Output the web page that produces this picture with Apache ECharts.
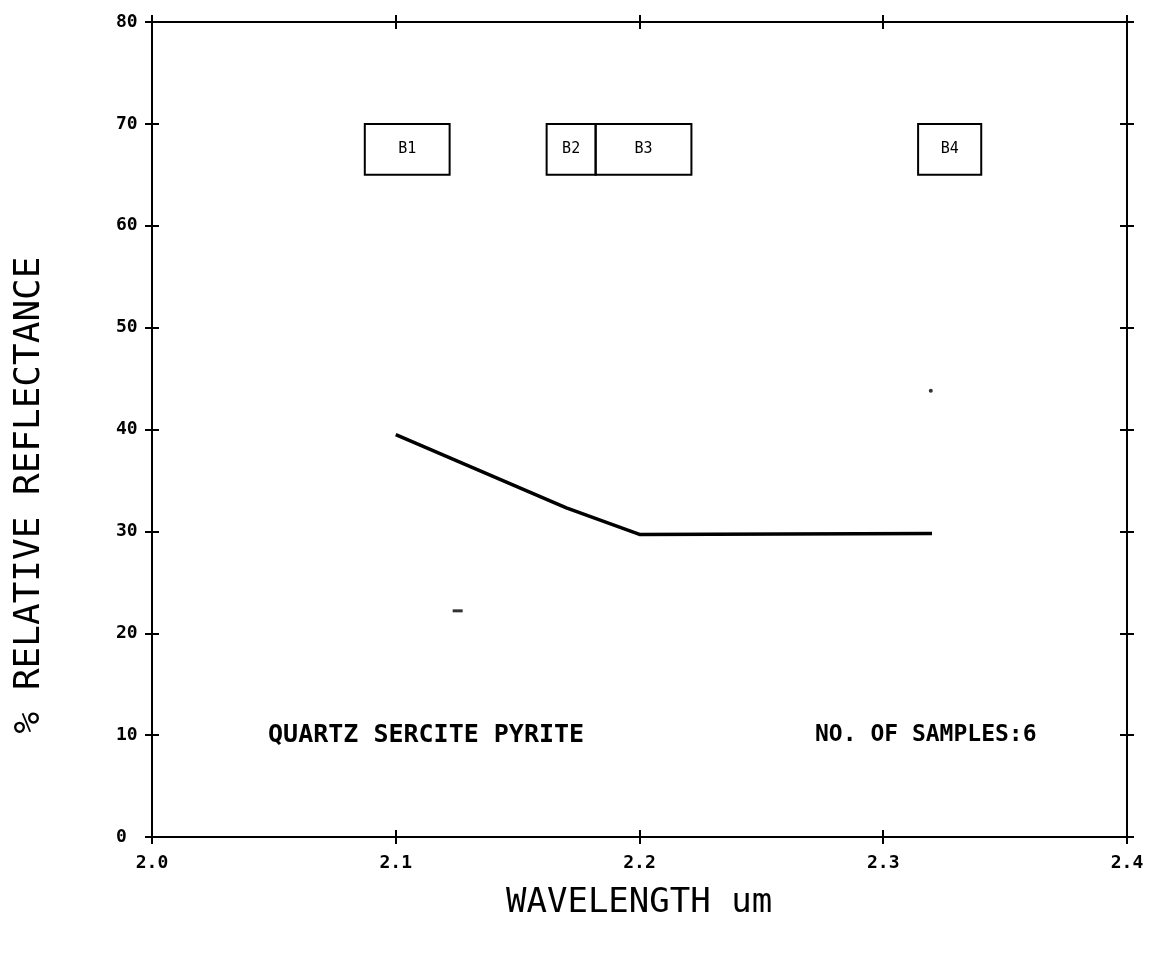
<!DOCTYPE html>
<html>
<head>
<meta charset="utf-8">
<script src="https://cdn.jsdelivr.net/npm/echarts@6/dist/echarts.min.js"></script>
<style>
html,body{margin:0;padding:0;background:#fff;}
#chart{width:1154px;height:957px;}
</style>
</head>
<body>
<div id="chart"></div>
<script>
// Data
const wavelength = [2.10, 2.17, 2.20, 2.32];
const reflectance = [39.5, 32.3, 29.7, 29.8];
const bandNames = ['B1', 'B2', 'B3', 'B4'];
const bandStart = [2.0873, 2.1619, 2.1820, 2.3143];
const bandEnd = [2.1221, 2.1820, 2.2213, 2.3402];
const bandLow = [65, 65, 65, 65];
const bandHigh = [70, 70, 70, 70];
const strayMarks = [[2.1254, 22.2], [2.3195, 43.8]];
const mineralLabel = 'QUARTZ SERCITE PYRITE';
const samplesLabel = 'NO. OF SAMPLES:6';
const mineralPos = [2.0476, 10];
const samplesPos = [2.272, 10];
const xTitle = 'WAVELENGTH um';
const yTitle = '% RELATIVE REFLECTANCE';
const xMin = 2.0, xMax = 2.4, xStep = 0.1;
const yMin = 0, yMax = 80, yStep = 10;

const FONT = 'DejaVu Sans Mono';
const chart = echarts.init(document.getElementById('chart'));

function xAx(pos, inside, showLabel) {
  return {
    type: 'value', min: xMin, max: xMax, interval: xStep, position: pos,
    axisLine: {show: true, onZero: false, lineStyle: {color: '#000', width: 2}},
    axisTick: {show: true, inside: inside, length: 7, lineStyle: {color: '#000', width: 2}},
    axisLabel: {show: showLabel, margin: 17, color: '#000', fontFamily: FONT, fontSize: 18, fontWeight: 'bold',
      formatter: v => v.toFixed(1)},
    splitLine: {show: false}
  };
}
function yAx(pos, inside, showLabel) {
  return {
    type: 'value', min: yMin, max: yMax, interval: yStep, position: pos,
    axisLine: {show: true, onZero: false, lineStyle: {color: '#000', width: 2}},
    axisTick: {show: true, inside: inside, length: 7, lineStyle: {color: '#000', width: 2}},
    axisLabel: {show: showLabel, margin: 36, align: 'left', color: '#000', fontFamily: FONT, fontSize: 18, fontWeight: 'bold'},
    splitLine: {show: false}
  };
}

const areas = bandNames.map((n, i) => [
  {name: n, xAxis: bandStart[i], yAxis: bandLow[i]},
  {xAxis: bandEnd[i], yAxis: bandHigh[i]}
]);

chart.setOption({
  backgroundColor: '#fff',
  animation: false,
  grid: {left: 152, right: 27, top: 22, bottom: 120},
  xAxis: [xAx('bottom', false, true), xAx('bottom', true, false), xAx('top', false, false), xAx('top', true, false)],
  yAxis: [yAx('left', false, true), yAx('left', true, false), yAx('right', false, false), yAx('right', true, false)],
  series: [
    {
      type: 'line', xAxisIndex: 0, yAxisIndex: 0,
      data: wavelength.map((x, i) => [x, reflectance[i]]),
      showSymbol: false, symbol: 'none',
      lineStyle: {color: '#000', width: 3.5},
      markArea: {
        silent: true,
        itemStyle: {color: 'rgba(0,0,0,0)', borderColor: '#000', borderWidth: 2},
        label: {show: true, position: 'inside', color: '#000', fontFamily: FONT, fontSize: 15},
        data: areas
      }
    },
    {
      type: 'scatter', xAxisIndex: 0, yAxisIndex: 0,
      data: [strayMarks[0]], symbol: 'rect', symbolSize: [10, 3],
      itemStyle: {color: '#000'}
    },
    {
      type: 'scatter', xAxisIndex: 0, yAxisIndex: 0,
      data: [strayMarks[1]], symbol: 'circle', symbolSize: 4,
      itemStyle: {color: '#000'}
    },
    {
      type: 'scatter', xAxisIndex: 0, yAxisIndex: 0, symbolSize: 0, silent: true,
      itemStyle: {opacity: 1},
      data: [{value: mineralPos, label: {formatter: mineralLabel, fontSize: 25}},
             {value: samplesPos, label: {formatter: samplesLabel, fontSize: 23}}],
      label: {show: true, position: 'right', distance: 0, color: '#000', fontFamily: FONT, fontWeight: 'bold'}
    }
  ],
  graphic: [
    {type: 'text', x: 506, y: 886, style: {text: xTitle, fill: '#000', font: '34px "DejaVu Sans Mono"'}},
    {type: 'text', x: 30, y: 495, rotation: Math.PI / 2,
     style: {text: yTitle, fill: '#000', font: '36px "DejaVu Sans Mono"', textAlign: 'center', textVerticalAlign: 'middle'}}
  ]
});
</script>
</body>
</html>
